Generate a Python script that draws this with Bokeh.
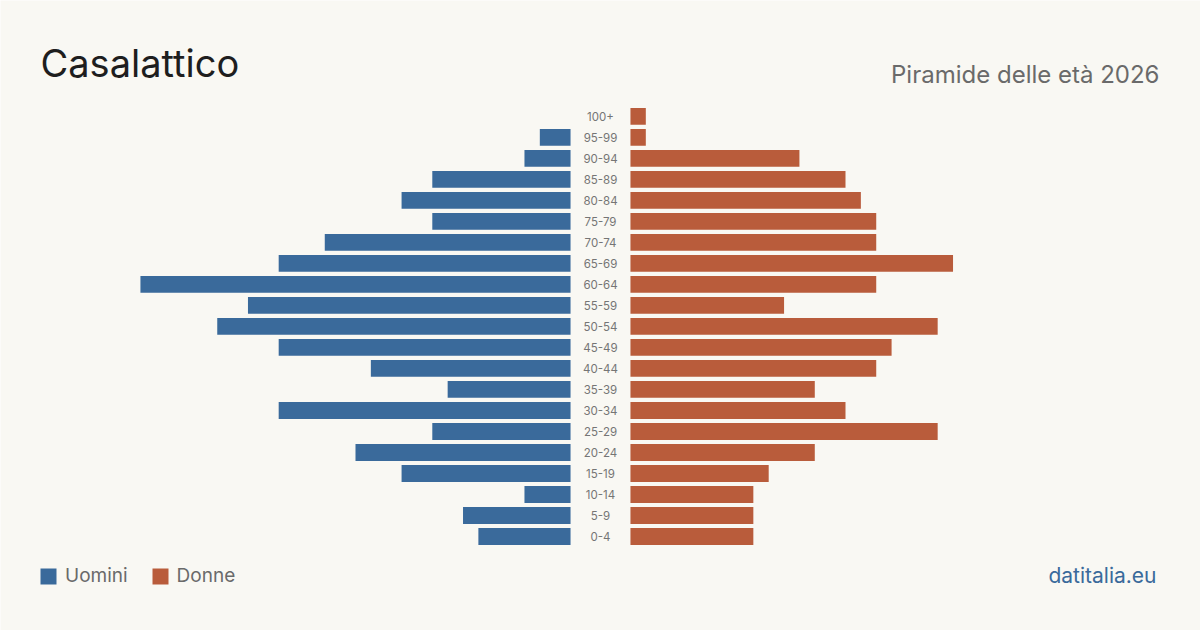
from bokeh.plotting import figure
from bokeh.models import Range1d, Label, Legend, LegendItem, ColumnDataSource
from bokeh.embed import file_html
from bokeh.resources import INLINE
from bokeh.core.properties import value

# Population of Casalattico by age group, 2026
age_groups = ["0-4", "5-9", "10-14", "15-19", "20-24", "25-29", "30-34", "35-39",
              "40-44", "45-49", "50-54", "55-59", "60-64", "65-69", "70-74",
              "75-79", "80-84", "85-89", "90-94", "95-99", "100+"]
men = [6, 7, 3, 11, 14, 9, 19, 8, 13, 19, 23, 21, 28, 19, 16, 9, 11, 9, 3, 2, 0]
women = [8, 8, 8, 9, 12, 20, 14, 12, 16, 17, 20, 10, 16, 21, 16, 16, 15, 14, 11, 1, 1]

W, H = 1200, 630
BG = "#f9f8f3"
BLUE = "#3a6a9b"
RED = "#b95c3b"
FONT = "Inter"

GAP = 1.95          # half-width of the central label column, in data units
X_HALF = 39.06      # half-width of the x range
BAR_H = 0.8

idx = list(range(len(age_groups)))
src = ColumnDataSource(dict(
    y=idx,
    label=age_groups,
    m_left=[-(GAP + v) for v in men],
    m_right=[-GAP] * len(men),
    w_left=[GAP] * len(women),
    w_right=[GAP + v for v in women],
    zero=[0] * len(idx),
))

p = figure(width=W, height=H, output_backend="svg", toolbar_location=None,
           x_range=Range1d(-X_HALF, X_HALF), y_range=Range1d(-4.476, 25.52),
           min_border=0, outline_line_color=None,
           background_fill_color=BG, border_fill_color=BG)
p.axis.visible = False
p.grid.visible = False

r_m = p.hbar(y="y", left="m_left", right="m_right", height=BAR_H, source=src,
             fill_color=BLUE, line_color=None)
r_w = p.hbar(y="y", left="w_left", right="w_right", height=BAR_H, source=src,
             fill_color=RED, line_color=None)

p.text(x="zero", y="y", text="label", source=src, text_align="center",
       text_baseline="middle", text_font=value(FONT), text_font_size="11.5px",
       text_color="#757575")

p.add_layout(Label(x=40, y=H - 62, x_units="screen", y_units="screen",
                   text="Casalattico", text_font=FONT, text_font_size="38px",
                   text_color="#1e1e1e", text_baseline="alphabetic"))
p.add_layout(Label(x=1159, y=H - 74, x_units="screen", y_units="screen",
                   text="Piramide delle età 2026", text_font=FONT,
                   text_font_size="24px", text_color="#6a6a6a",
                   text_align="right", text_baseline="alphabetic"))
p.add_layout(Label(x=1156, y=H - 575, x_units="screen", y_units="screen",
                   text="datitalia.eu", text_font=FONT, text_font_size="21px",
                   text_color=BLUE, text_align="right", text_baseline="alphabetic"))

legend = Legend(items=[LegendItem(label="Uomini", renderers=[r_m]),
                       LegendItem(label="Donne", renderers=[r_w])],
                orientation="horizontal", location=(38, 43),
                padding=0, margin=0, spacing=22, label_standoff=7,
                glyph_width=20, glyph_height=20,
                label_text_font=FONT, label_text_font_size="19px",
                label_text_color="#6a6a6a",
                border_line_alpha=0, background_fill_alpha=0)
p.add_layout(legend)

open("out.html", "w").write(file_html(p, INLINE))
